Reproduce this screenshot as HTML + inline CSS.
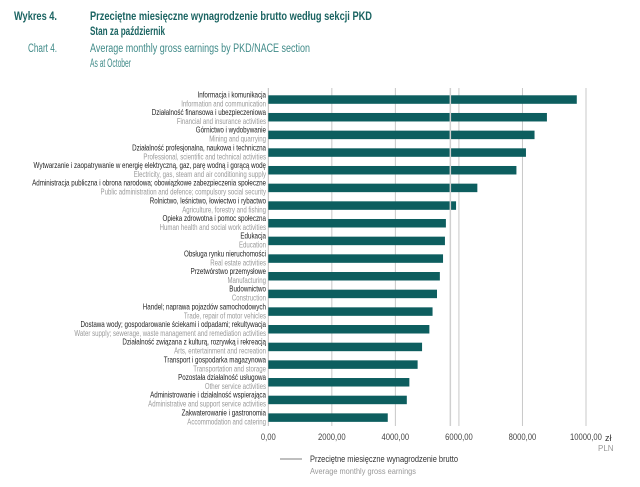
<!DOCTYPE html>
<html><head><meta charset="utf-8"><style>
body{margin:0;background:#fff;width:640px;height:482px;overflow:hidden;font-family:"Liberation Sans",sans-serif}
svg text{font-family:"Liberation Sans",sans-serif}
</style></head><body>
<svg id="chart" width="640" height="482" xmlns="http://www.w3.org/2000/svg">
<g>
<text x="14" y="20" font-size="11.5" font-weight="bold" fill="#1b6462" textLength="43" lengthAdjust="spacingAndGlyphs">Wykres 4.</text>
<text x="90" y="20" font-size="11.5" font-weight="bold" fill="#1b6462" textLength="282" lengthAdjust="spacingAndGlyphs">Przeciętne miesięczne wynagrodzenie brutto według sekcji PKD</text>
<text x="90" y="35" font-size="11.5" font-weight="bold" fill="#1b6462" textLength="75" lengthAdjust="spacingAndGlyphs">Stan za październik</text>
<text x="28" y="52" font-size="11.5" fill="#3f8a88" textLength="29" lengthAdjust="spacingAndGlyphs">Chart 4.</text>
<text x="90" y="52" font-size="11.5" fill="#3f8a88" textLength="220" lengthAdjust="spacingAndGlyphs">Average monthly gross earnings by PKD/NACE section</text>
<text x="90" y="67" font-size="11.5" fill="#3f8a88" textLength="41" lengthAdjust="spacingAndGlyphs">As at October</text>
</g>
<g id="grid"></g><g id="bars"></g><g id="labels" transform="translate(266,0) scale(0.78,1) translate(-266,0)"></g><g id="ticks"></g>
<text x="605" y="441" font-size="9" fill="#333">zł</text>
<text x="598" y="451" font-size="8" fill="#999">PLN</text>
<g>
<line x1="280" y1="459" x2="302" y2="459" stroke="#aaa" stroke-width="1.5"/>
<text x="310" y="462" font-size="9" fill="#333" textLength="148" lengthAdjust="spacingAndGlyphs">Przeciętne miesięczne wynagrodzenie brutto</text>
<text x="310" y="474" font-size="8.5" fill="#999" textLength="106" lengthAdjust="spacingAndGlyphs">Average monthly gross earnings</text>
</g>
</svg>
<script>
const categoriesPl=["Informacja i komunikacja","Działalność finansowa i ubezpieczeniowa","Górnictwo i wydobywanie","Działalność profesjonalna, naukowa i techniczna","Wytwarzanie i zaopatrywanie w energię elektryczną, gaz, parę wodną i gorącą wodę","Administracja publiczna i obrona narodowa; obowiązkowe zabezpieczenia społeczne","Rolnictwo, leśnictwo, łowiectwo i rybactwo","Opieka zdrowotna i pomoc społeczna","Edukacja","Obsługa rynku nieruchomości","Przetwórstwo przemysłowe","Budownictwo","Handel; naprawa pojazdów samochodowych","Dostawa wody; gospodarowanie ściekami i odpadami; rekultywacja","Działalność związana z kulturą, rozrywką i rekreacją","Transport i gospodarka magazynowa","Pozostała działalność usługowa","Administrowanie i działalność wspierająca","Zakwaterowanie i gastronomia"];
const categoriesEn=["Information and communication","Financial and insurance activities","Mining and quarrying","Professional, scientific and technical activities","Electricity, gas, steam and air conditioning supply","Public administration and defence; compulsory social security","Agriculture, forestry and fishing","Human health and social work activities","Education","Real estate activities","Manufacturing","Construction","Trade, repair of motor vehicles","Water supply; sewerage, waste management and remediation activities","Arts, entertainment and recreation","Transportation and storage","Other service activities","Administrative and support service activities","Accommodation and catering"];
const values=[9710,8770,8380,8110,7810,6580,5910,5590,5560,5500,5400,5310,5170,5070,4840,4700,4440,4360,3760];
const average=[5730];
const ticks=[0,2000,4000,6000,8000,10000];
const tickLabels=["0,00","2000,00","4000,00","6000,00","8000,00","10000,00"];
const NS="http://www.w3.org/2000/svg";
const x=v=>268.3+v*0.03177;
const y=i=>99.3+i*17.67;
function mk(p,t,a){const e=document.createElementNS(NS,t);for(const k in a)e.setAttribute(k,a[k]);document.getElementById(p).appendChild(e);return e;}
ticks.forEach((t,i)=>{
 if(i>0){const g=mk("grid","line",{x1:x(t),x2:x(t),y1:88,y2:426,stroke:"#c8c8c8","stroke-width":1});
 
 }
 const tl=mk("ticks","text",{x:x(t),y:440,"font-size":9,fill:"#444","text-anchor":"middle",transform:"translate("+x(t)+",0) scale(0.85,1) translate("+(-x(t))+",0)"});
 tl.textContent=tickLabels[i];
 
 
});
const ax=mk("grid","line",{x1:x(0),x2:x(0),y1:88,y2:426,stroke:"#bbb","stroke-width":1});


values.forEach((v,i)=>{
 const b=mk("bars","rect",{x:x(0),y:y(i)-4,width:x(v)-x(0),height:8.5,fill:"#0d5e5f"});
 
 
 const l1=mk("labels","text",{x:266,y:y(i)-2,"font-size":8,fill:"#222","text-anchor":"end"});
 l1.textContent=categoriesPl[i];
 
 
 const l2=mk("labels","text",{x:266,y:y(i)+7,"font-size":7.8,fill:"#999","text-anchor":"end"});
 l2.textContent=categoriesEn[i];
 
 
});
const av=mk("bars","line",{x1:x(average[0]),x2:x(average[0]),y1:88,y2:426,stroke:"#d0d0d0","stroke-width":1.5});


</script>
</body></html>
